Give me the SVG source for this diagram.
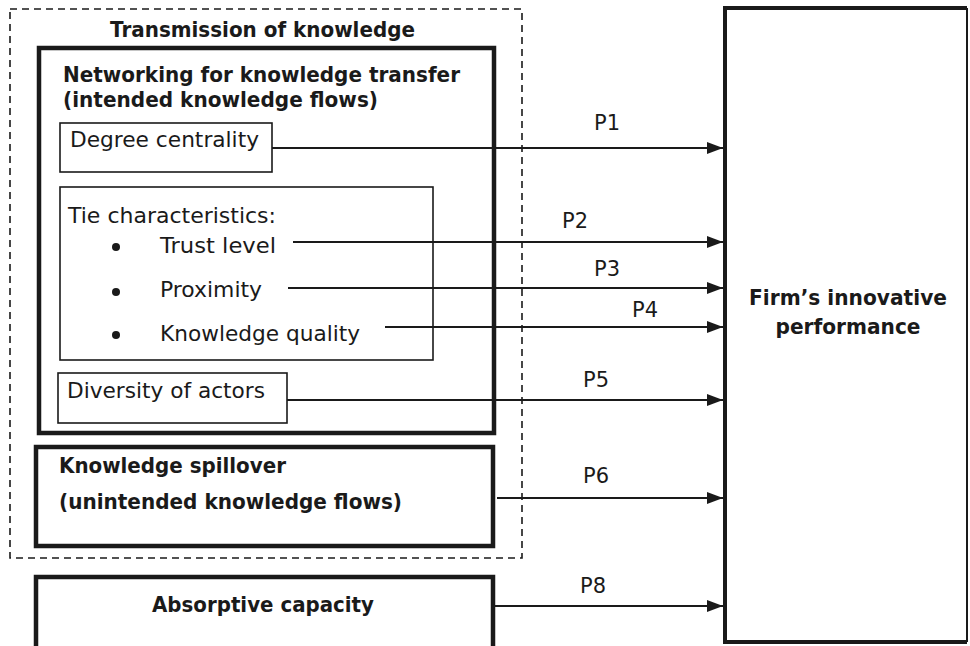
<svg xmlns="http://www.w3.org/2000/svg" width="970" height="646" viewBox="0 0 970 646">
<defs>
<marker id="ah" markerWidth="16" markerHeight="12" refX="16" refY="6" orient="auto" markerUnits="userSpaceOnUse">
<path d="M0,0 L16,6 L0,12 Z" fill="#1a1a1a"/>
</marker>
<style>
text{font-family:"DejaVu Sans","Liberation Sans",sans-serif;fill:#1a1a1a}
.b{font-weight:bold;font-size:22px}
.r{font-size:22px}
.thick{fill:#fff;stroke:#1a1a1a;stroke-width:4.5}
.thin{fill:#fff;stroke:#1a1a1a;stroke-width:1.6}
.dash{fill:none;stroke:#1a1a1a;stroke-width:1.6;stroke-dasharray:7,5}
.c{stroke:#1a1a1a;stroke-width:2;fill:none;marker-end:url(#ah)}
</style>
</defs>
<rect width="970" height="646" fill="#fff"/>
<g id="transmission">
<rect class="dash" x="10" y="9" width="512" height="549"/>
<text class="b" x="110" y="37" textLength="305" lengthAdjust="spacingAndGlyphs">Transmission of knowledge</text>
</g>
<g id="networking">
<rect class="thick" x="39" y="48" width="455" height="385"/>
<text class="b" x="63" y="82" textLength="397" lengthAdjust="spacingAndGlyphs">Networking for knowledge transfer</text>
<text class="b" x="63" y="107" textLength="315" lengthAdjust="spacingAndGlyphs">(intended knowledge flows)</text>
</g>
<g id="degree">
<rect class="thin" x="60" y="123" width="212" height="49"/>
<text class="r" x="70" y="147" textLength="189" lengthAdjust="spacingAndGlyphs">Degree centrality</text>
</g>
<g id="tie">
<rect class="thin" x="60" y="187" width="373" height="173"/>
<text class="r" x="68" y="223" textLength="208" lengthAdjust="spacingAndGlyphs">Tie characteristics:</text>
<circle cx="116" cy="247" r="4" fill="#1a1a1a"/>
<circle cx="116" cy="292" r="4" fill="#1a1a1a"/>
<circle cx="116" cy="335" r="4" fill="#1a1a1a"/>
<text class="r" x="160" y="253" textLength="116" lengthAdjust="spacingAndGlyphs">Trust level</text>
<text class="r" x="160" y="297" textLength="102" lengthAdjust="spacingAndGlyphs">Proximity</text>
<text class="r" x="160" y="341" textLength="200" lengthAdjust="spacingAndGlyphs">Knowledge quality</text>
</g>
<g id="diversity">
<rect class="thin" x="58" y="373" width="229" height="50"/>
<text class="r" x="67" y="398" textLength="198" lengthAdjust="spacingAndGlyphs">Diversity of actors</text>
</g>
<g id="spillover">
<rect class="thick" x="36" y="447" width="457" height="99"/>
<text class="b" x="59" y="473" textLength="227" lengthAdjust="spacingAndGlyphs">Knowledge spillover</text>
<text class="b" x="59" y="509" textLength="343" lengthAdjust="spacingAndGlyphs">(unintended knowledge flows)</text>
</g>
<g id="absorptive">
<rect class="thick" x="36" y="577" width="457" height="75"/>
<text class="b" x="152" y="612" textLength="222" lengthAdjust="spacingAndGlyphs">Absorptive capacity</text>
</g>
<g id="firm">
<rect fill="#fff" stroke="none" x="723" y="8" width="245" height="634"/>
<path d="M967,8 L967,642" stroke="#1a1a1a" stroke-width="2"/>
<path d="M723,8 L967,8 M725,8 L725,642 L967,642" fill="none" stroke="#1a1a1a" stroke-width="4"/>
<text class="b" x="848" y="305" text-anchor="middle" textLength="198" lengthAdjust="spacingAndGlyphs">Firm’s innovative</text>
<text class="b" x="848" y="334" text-anchor="middle" textLength="145" lengthAdjust="spacingAndGlyphs">performance</text>
</g>
<g id="connectors">
<path class="c" d="M272,148 L723,148"/>
<path class="c" d="M293,242 L723,242"/>
<path class="c" d="M288,288 L723,288"/>
<path class="c" d="M385,327 L723,327"/>
<path class="c" d="M287,400 L723,400"/>
<path class="c" d="M497,498 L723,498"/>
<path class="c" d="M495,606 L723,606"/>
<text class="r" x="607" y="130" text-anchor="middle" textLength="26" lengthAdjust="spacingAndGlyphs">P1</text>
<text class="r" x="575" y="228" text-anchor="middle" textLength="26" lengthAdjust="spacingAndGlyphs">P2</text>
<text class="r" x="607" y="276" text-anchor="middle" textLength="26" lengthAdjust="spacingAndGlyphs">P3</text>
<text class="r" x="645" y="317" text-anchor="middle" textLength="26" lengthAdjust="spacingAndGlyphs">P4</text>
<text class="r" x="596" y="387" text-anchor="middle" textLength="26" lengthAdjust="spacingAndGlyphs">P5</text>
<text class="r" x="596" y="483" text-anchor="middle" textLength="26" lengthAdjust="spacingAndGlyphs">P6</text>
<text class="r" x="593" y="593" text-anchor="middle" textLength="26" lengthAdjust="spacingAndGlyphs">P8</text>
</g>
</svg>
